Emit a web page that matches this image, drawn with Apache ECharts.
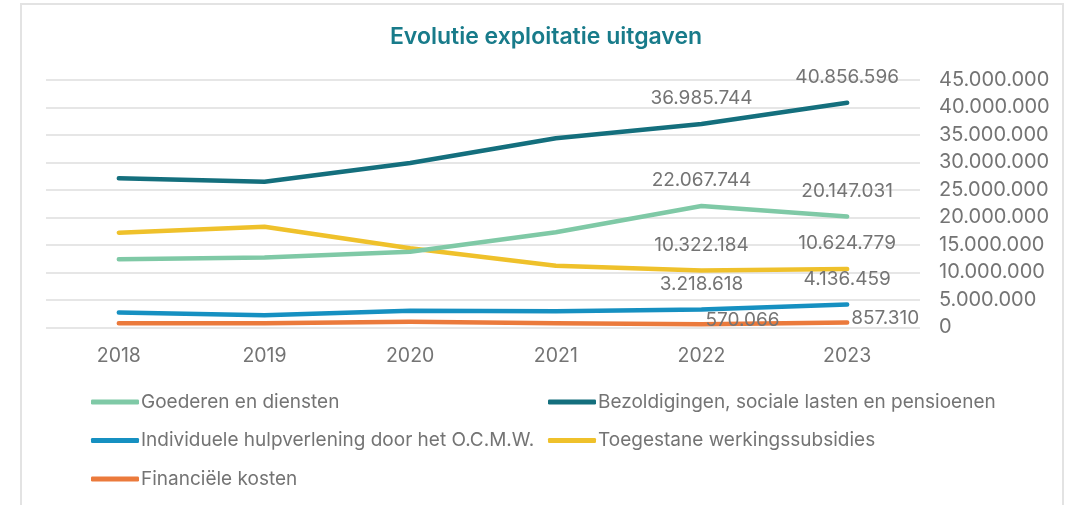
<!DOCTYPE html>
<html lang="nl">
<head>
    <meta charset="UTF-8">
    <script src="https://cdn.jsdelivr.net/npm/echarts@6/dist/echarts.min.js"></script>
    <title>Evolutie exploitatie uitgaven</title>
    <style>
        html, body { margin: 0; padding: 0; background: #ffffff; }
        #chart { width: 1073px; height: 505px; }
    </style>
</head>
<body>
    <div id="chart"></div>
    <script>
        var chart = echarts.init(document.getElementById('chart'));

        var years = ['2018', '2019', '2020', '2021', '2022', '2023'];
        var goederen = [12400000, 12700000, 13750000, 17300000, 22067744, 20147031];
        var bezoldigingen = [27100000, 26500000, 29900000, 34400000, 36985744, 40856596];
        var hulpverlening = [2700000, 2200000, 3000000, 2900000, 3218618, 4136459];
        var subsidies = [17200000, 18300000, 14400000, 11200000, 10322184, 10624779];
        var financieel = [730000, 750000, 1000000, 750000, 570066, 857310];

        var names = ['Goederen en diensten', 'Bezoldigingen, sociale lasten en pensioenen',
            'Individuele hulpverlening door het O.C.M.W.', 'Toegestane werkingssubsidies', 'Financiële kosten'];
        var colors = ['#7fc9a6', '#146f7d', '#1690c1', '#efc12b', '#eb7a3c'];

        var grey = '#747474';
        var font = 'Inter, "Noto Sans", sans-serif';

        function dots(v) {
            return String(Math.round(v)).replace(/\B(?=(\d{3})+(?!\d))/g, '.');
        }

        // labels only for the last two years
        function points(values) {
            return values.map(function (v, i) {
                return { value: v, label: { show: i >= 4 } };
            });
        }

        function lineSeries(idx, values, labelPos) {
            var label = {
                show: false,
                color: grey, fontSize: 19, fontFamily: font,
                formatter: function (p) { return dots(p.value); }
            };
            if (labelPos === 'right') {
                label.position = 'right';
                label.distance = 4;
                label.offset = [0, -4];
            } else {
                label.position = 'top';
                label.distance = 16;
            }
            return {
                name: names[idx],
                type: 'line',
                data: points(values),
                symbol: 'circle',
                symbolSize: 0,
                showSymbol: true,
                z: 10 - idx,
                lineStyle: { color: colors[idx], width: 4.5, cap: 'round', join: 'round' },
                itemStyle: { color: colors[idx] },
                label: label
            };
        }

        var legendText = { color: grey, fontSize: 19, fontFamily: font, lineHeight: 20, padding: [0, 0, 0, -3] };

        var option = {
            backgroundColor: '#ffffff',
            animation: false,
            title: {
                text: 'Evolutie exploitatie uitgaven',
                left: 541,
                textAlign: 'center',
                top: 21,
                textStyle: { color: '#187b8a', fontSize: 23, fontWeight: 600, fontFamily: font }
            },
            graphic: [{
                type: 'rect',
                shape: { x: 21, y: 4, width: 1042, height: 530 },
                style: { fill: 'none', stroke: '#e3e3e3', lineWidth: 2 },
                silent: true
            }],
            legend: [{
                orient: 'vertical',
                left: 86,
                top: 387,
                itemWidth: 48,
                itemHeight: 5,
                itemGap: 18.5,
                icon: 'roundRect',
                data: [names[0], names[2], names[4]],
                textStyle: legendText
            }, {
                orient: 'vertical',
                left: 543,
                top: 387,
                itemWidth: 48,
                itemHeight: 5,
                itemGap: 18.5,
                icon: 'roundRect',
                data: [names[1], names[3]],
                textStyle: legendText
            }],
            grid: { left: 46, right: 153, top: 80, bottom: 177.7 },
            xAxis: {
                type: 'category',
                data: years,
                boundaryGap: true,
                axisLine: { show: false },
                axisTick: { show: false },
                axisLabel: { color: grey, fontSize: 19.5, fontFamily: font, margin: 19 }
            },
            yAxis: {
                type: 'value',
                position: 'right',
                min: 0,
                max: 45000000,
                interval: 5000000,
                axisLine: { show: false },
                axisTick: { show: false },
                splitLine: { lineStyle: { color: '#dedede', width: 1.5 } },
                axisLabel: {
                    color: grey, fontSize: 20, fontFamily: font, margin: 19,
                    formatter: function (v) { return dots(v); }
                }
            },
            series: [
                lineSeries(0, goederen, 'top'),
                lineSeries(1, bezoldigingen, 'top'),
                lineSeries(2, hulpverlening, 'top'),
                lineSeries(3, subsidies, 'top'),
                lineSeries(4, financieel, 'right')
            ]
        };

        chart.setOption(option);
    </script>
</body>
</html>
